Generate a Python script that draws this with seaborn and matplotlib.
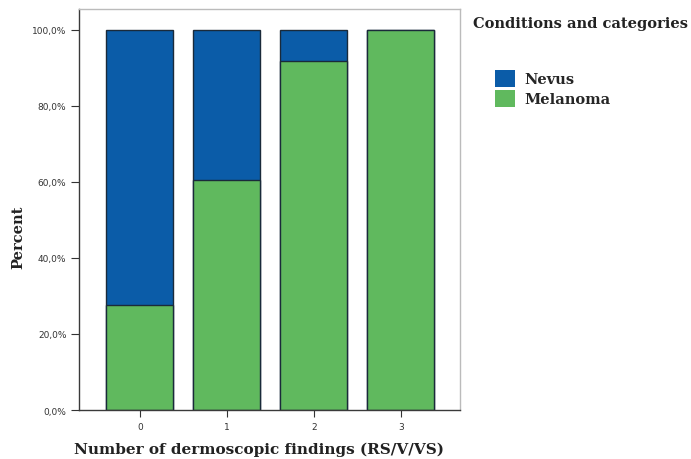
import matplotlib
matplotlib.use("Agg")
import matplotlib.pyplot as plt
import pandas as pd
import seaborn as sns
from matplotlib.patches import Patch

sns.set_style("white")

findings = ["0", "1", "2", "3"]
melanoma_pct = [27.5, 60.5, 91.8, 100.0]
nevus_pct = [72.5, 39.5, 8.2, 0.0]
y_ticks = [0, 20, 40, 60, 80, 100]
y_tick_labels = ["0,0%", "20,0%", "40,0%", "60,0%", "80,0%", "100,0%"]

nevus_color = "#0b5ca8"
melanoma_color = "#60b95e"
serif = ["DejaVu Serif"]

df = pd.DataFrame({
    "findings": findings,
    "melanoma": melanoma_pct,
    "total": [m + n for m, n in zip(melanoma_pct, nevus_pct)],
})

fig = plt.figure(figsize=(6.91, 4.60), dpi=100)
ax = fig.add_axes([0.1143, 0.1065, 0.5514, 0.8717])

sns.barplot(data=df, x="findings", y="total", color=nevus_color,
            saturation=1, width=0.77, edgecolor="#1a2a3a", linewidth=1.0, ax=ax)
sns.barplot(data=df, x="findings", y="melanoma", color=melanoma_color,
            saturation=1, width=0.77, edgecolor="#1a2a3a", linewidth=1.0, ax=ax)

ax.set_xlim(-0.70, 3.68)
ax.set_ylim(0, 105.5)
ax.set_yticks(y_ticks)
ax.set_yticklabels(y_tick_labels, fontsize=6.5, color="#333333")
ax.tick_params(axis="y", length=6, width=0.8, color="#333333", pad=3, left=True)
ax.tick_params(axis="x", length=5, width=0.8, color="#333333", labelsize=6.5,
               labelcolor="#333333", bottom=True)

for side in ["left", "bottom", "top", "right"]:
    ax.spines[side].set_color("#3a3a3a")
    ax.spines[side].set_linewidth(1.0)
ax.spines["top"].set_color("#bbbbbb")
ax.spines["right"].set_color("#bbbbbb")

ax.set_ylabel("")
ax.set_xlabel("")
fig.text(0.027, 0.485, "Percent", rotation=90, ha="center", va="center",
         fontsize=10.5, fontweight="bold", family=serif, color="#222222")
fig.text(0.375, 0.022, "Number of dermoscopic findings (RS/V/VS)", ha="center",
         va="center", fontsize=11, fontweight="bold", family=serif, color="#222222")

handles = [Patch(facecolor=nevus_color, edgecolor="none", label="Nevus"),
           Patch(facecolor=melanoma_color, edgecolor="none", label="Melanoma")]
fig.text(0.684, 0.94, "Conditions and categories", fontsize=10.5, fontweight="bold",
         family=serif, color="#222222")
fig.legend(handles=handles, loc="upper left", bbox_to_anchor=(0.697, 0.874),
           frameon=False, handlelength=1.4, handleheight=1.4,
           handletextpad=0.6, labelspacing=0.2,
           prop={"family": serif, "weight": "bold", "size": 10.5})

fig.savefig("out.png", dpi=100)
